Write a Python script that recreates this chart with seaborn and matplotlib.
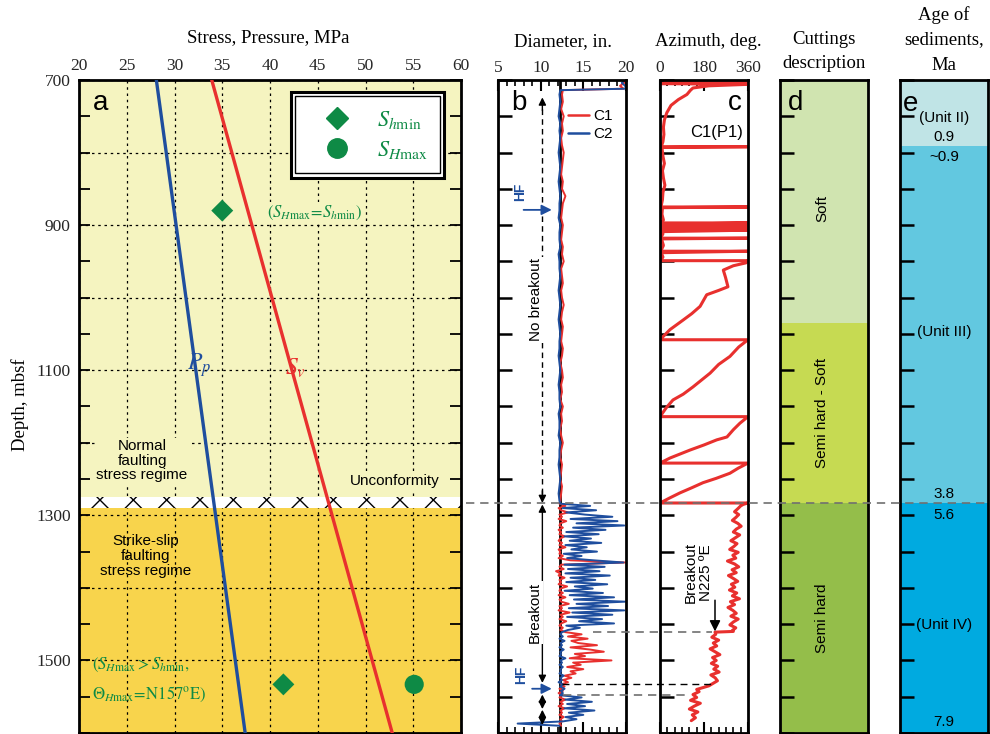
import numpy as np
import matplotlib
matplotlib.use("Agg")
import matplotlib.pyplot as plt
import matplotlib.transforms as mtrans
from matplotlib.patches import Rectangle
from matplotlib.lines import Line2D
from matplotlib.ticker import MultipleLocator
import seaborn as sns

sns.set_theme(style="white")
plt.rcParams['font.family'] = ['Liberation Sans', 'DejaVu Sans']
plt.rcParams['mathtext.fontset'] = 'stix'
plt.rcParams['hatch.linewidth'] = 1.0
SERIF = ['Liberation Serif', 'DejaVu Serif']

# ---------------- data ----------------
# panel a: stress / pressure profiles (MPa vs depth mbsf)
pp_depth = [700, 1600]
pp_mpa = [28.1, 37.4]
sv_depth = [700, 1600]
sv_mpa = [33.9, 52.8]
shmin_depth = [880, 1533]
shmin_mpa = [35.0, 41.4]
shmax_depth = [1533]
shmax_mpa = [55.1]
regime_top = [700, 1290]
regime_bottom = [1275, 1600]
unconformity = [1275, 1290]

# panel b: caliper (inches)
cal_depth_upper = [700, 704, 708, 712, 714] + list(range(720, 1281, 10))
c1_upper = [19.6, 19.8, 19.3, 19.7, 12.6,
            12.5, 12.6, 12.4, 12.7, 12.5, 12.6, 12.4, 12.5, 12.7, 12.6,
            12.5, 12.4, 12.6, 12.5, 12.9, 12.6, 12.5, 12.4, 12.6, 12.5,
            12.4, 12.6, 12.5, 12.7, 12.4, 12.5, 12.6, 12.4, 12.5, 12.7,
            12.5, 12.4, 12.6, 12.5, 12.4, 12.6, 12.5, 12.3, 12.5, 12.6,
            12.4, 12.5, 12.3, 12.6, 12.4, 12.5, 12.3, 12.4, 12.6, 12.4,
            12.3, 12.5, 12.4, 12.3, 12.5, 12.4, 12.3]
c2_upper = [19.9, 19.5, 19.9, 20.0, 12.3,
            12.2, 12.3, 12.2, 12.1, 12.3, 12.2, 12.3, 12.2, 12.1, 12.2,
            12.3, 12.2, 12.1, 12.2, 12.3, 12.2, 12.2, 12.1, 12.3, 12.2,
            12.2, 12.3, 12.1, 12.2, 12.2, 12.3, 12.2, 12.1, 12.2, 12.3,
            12.2, 12.1, 12.2, 12.3, 12.2, 12.2, 12.1, 12.2, 12.3, 12.2,
            12.1, 12.2, 12.2, 12.3, 12.1, 12.2, 12.2, 12.1, 12.3, 12.2,
            12.2, 12.1, 12.2, 12.3, 12.2, 12.1, 12.2]
cal_depth_lower = list(range(1284, 1591, 3))
c1_lower = [12.2, 12.9, 12.1, 12.4, 13.2, 12.2, 12.5, 12.1, 13.0, 12.3,
            12.2, 12.6, 12.1, 12.4, 12.2, 12.8, 12.3, 12.1, 12.5, 12.2,
            12.9, 12.1, 12.3, 12.2, 12.6, 12.1, 13.5, 19.9, 12.4, 12.2,
            12.7, 11.8, 12.3, 12.1, 12.8, 12.2, 12.4, 12.1, 13.1, 12.3,
            12.2, 12.6, 12.1, 12.9, 12.2, 12.4, 13.3, 12.2, 12.5, 12.1,
            13.4, 12.3, 12.6, 12.2, 13.0, 12.4, 12.2, 12.6, 12.3,
            12.9, 14.8, 13.2, 15.5, 13.6, 14.4, 16.6, 13.5, 15.8, 17.4,
            14.0, 15.2, 13.4, 18.3, 13.8, 14.7, 13.1, 15.0, 13.5, 14.1,
            12.8, 13.6, 12.6, 13.2, 12.4, 12.8, 12.2, 12.6, 12.1, 12.5,
            12.2, 12.9, 12.3, 12.6, 12.1, 12.8, 12.3, 12.5, 12.2, 12.7,
            12.3, 12.5, 12.2, 12.4]
c2_lower = [12.3, 15.8, 12.6, 16.5, 13.0, 15.2, 18.4, 13.5, 19.0, 14.2,
            19.8, 13.8, 17.6, 13.0, 16.8, 12.8, 15.9, 13.4, 17.1, 12.9,
            15.4, 13.6, 16.6, 12.7, 14.8, 13.1, 16.2, 19.7, 12.8, 17.5,
            13.2, 16.9, 12.9, 18.1, 13.5, 16.4, 13.0, 17.8, 14.0, 16.1,
            12.8, 17.3, 13.4, 18.6, 13.9, 19.9, 14.2, 17.9, 13.3, 19.8,
            13.7, 18.4, 13.1, 17.2, 14.5, 18.6, 13.0, 14.6, 13.2, 12.5,
            12.3, 12.6, 12.2, 12.8, 12.3, 12.5, 12.2, 12.7, 12.3, 12.4,
            12.2, 12.9, 12.3, 12.5, 12.2, 12.6, 12.3, 12.4, 12.2, 12.7,
            12.3, 12.5, 12.1, 12.6, 12.3, 12.8, 12.4, 12.6, 12.3, 14.8,
            12.9, 16.0, 13.1, 15.2, 12.8, 16.3, 13.3, 15.0, 12.9, 14.2,
            12.6, 7.3, 12.2]
cal_depth = cal_depth_upper + cal_depth_lower
c1_in = c1_upper + c1_lower
c2_in = c2_upper + c2_lower
bit_size = 12.25

# panel c: pad-1 azimuth (deg)
az_depth = [702, 703, 705, 706, 708, 711, 714, 720, 727, 735, 745, 755, 765, 775, 785,
            792, 792, 793, 805, 815, 825, 835, 845, 855, 865, 875, 875, 876, 885, 893,
            897, 897, 899, 899, 901, 901, 903, 903, 905, 905, 907, 907, 909, 912,
            918, 918, 919, 928, 936, 936, 938, 944, 949, 949,
            952, 956, 962, 972, 985, 990, 996, 1012, 1022, 1031, 1044, 1058,
            1058, 1068, 1081, 1092, 1104, 1114, 1123, 1133, 1141, 1152, 1164,
            1164, 1173, 1182, 1192, 1196, 1203, 1210, 1221, 1228,
            1228, 1235, 1242, 1249, 1255, 1262, 1269, 1276, 1283,
            1283, 1285] + list(range(1287, 1460, 4)) + [1460, 1461] + \
           list(range(1464, 1533, 4)) + [1535, 1540] + list(range(1543, 1584, 4))
az_deg = [20, 360, 0, 360, 200, 135, 125, 110, 75, 45, 28, 18, 14, 16, 12,
          5, 360, 8, 12, 18, 10, 14, 20, 12, 10, 4, 360, 10, 8, 14,
          2, 360, 2, 360, 3, 360, 2, 360, 4, 360, 2, 360, 3, 12,
          2, 360, 6, 14, 3, 360, 5, 12, 3, 360,
          352, 300, 259, 268, 278, 240, 191, 164, 130, 94, 41, 0,
          360, 322, 286, 240, 205, 168, 135, 95, 53, 25, 0,
          360, 327, 300, 274, 232, 180, 123, 41, 0,
          360, 320, 286, 230, 176, 130, 82, 40, 0,
          360, 340,
          330, 318, 305, 322, 310, 296, 318, 332, 312, 300,
          326, 308, 290, 315, 302, 285, 320, 298, 310, 276,
          305, 322, 295, 312, 280, 300, 318, 292, 306, 284,
          314, 296, 325, 288, 305, 278, 298, 312, 290, 320,
          300, 286, 310, 295,
          300, 225,
          228, 212, 240, 218, 232, 205, 225, 245, 215, 230, 210, 236, 220, 242, 208, 226, 235, 215,
          200, 150,
          160, 135, 150, 125, 165, 140, 120, 155, 132, 145, 128]

# panel d: cuttings description
cut_labels = ['Soft', 'Semi hard - Soft', 'Semi hard']
cut_top = [700, 1035, 1283]
cut_bottom = [1035, 1283, 1600]
cut_colors = ['#D0E4B0', '#C6DA52', '#94BE4A']

# panel e: age of sediments
unit_labels = ['(Unit II)', '(Unit III)', '(Unit IV)']
unit_top = [700, 791, 1283]
unit_bottom = [791, 1283, 1600]
unit_colors = ['#C0E4E6', '#62C8E0', '#00AAE0']
age_labels = ['0.9', '~0.9', '3.8', '5.6', '7.9']
age_depth = [779, 806, 1270, 1300, 1585]

# ---------------- style ----------------
RED = '#E8302E'
BLUE = '#1F4E9E'
GREEN = '#0E8A45'
C_UP = '#F5F4C0'
C_LOW = '#F8D44C'

W, H = 990, 734
fig = plt.figure(figsize=(W / 100, H / 100), dpi=100)
fig.patch.set_facecolor('white')


def add_ax(lpx, rpx, tpx=80, bpx=733):
    ax = fig.add_axes([lpx / W, 1 - bpx / H, (rpx - lpx) / W, (bpx - tpx) / H])
    ax.set_facecolor('white')
    for s in ax.spines.values():
        s.set_color('black')
        s.set_linewidth(2)
        s.set_visible(True)
    ax.set_ylim(1600, 700)
    return ax


def depth_ticks(ax, length=10):
    ax.yaxis.set_major_locator(MultipleLocator(50))
    ax.tick_params(axis='y', which='both', direction='in', left=True, right=False,
                   length=length, width=1.8, labelleft=False, color='black')


# ---------------- panel a ----------------
axa = add_ax(79, 461)
axa.set_xlim(20, 60)
axa.axhspan(regime_top[0], regime_bottom[0], color=C_UP, lw=0, zorder=0)
axa.axhspan(regime_top[1], regime_bottom[1], color=C_LOW, lw=0, zorder=0)
axa.axhspan(unconformity[0], unconformity[1], facecolor='white', edgecolor='black',
            hatch='x', lw=0, zorder=0.7)
axa.set_xticks(range(20, 61, 5))
axa.xaxis.tick_top()
axa.tick_params(axis='x', which='both', length=0, pad=4, labelsize=12.5, labelfontfamily=SERIF[0])
yt = list(range(700, 1601, 100))
axa.set_yticks(yt, [str(v) if (v - 700) % 200 == 0 and v < 1600 else '' for v in yt])
axa.yaxis.set_minor_locator(MultipleLocator(50))
axa.tick_params(axis='y', which='both', direction='in', left=True, right=True, length=8,
                width=1.3, labelsize=12.5, pad=6, labelfontfamily=SERIF[0], color='black')
axa.grid(True, which='major', color='black', lw=0.9, linestyle=(0, (2, 3)))
sns.lineplot(x=pp_mpa, y=pp_depth, sort=False, estimator=None, color=BLUE, lw=2.4, ax=axa, zorder=3)
sns.lineplot(x=sv_mpa, y=sv_depth, sort=False, estimator=None, color=RED, lw=2.4, ax=axa, zorder=3)
sns.scatterplot(x=shmin_mpa, y=shmin_depth, marker='D', s=125, color=GREEN, edgecolor='none',
                ax=axa, zorder=4)
sns.scatterplot(x=shmax_mpa, y=shmax_depth, marker='o', s=190, color=GREEN, edgecolor='none',
                ax=axa, zorder=4)
axa.set_xlabel('')
axa.set_ylabel('')

# legend with double frame
axa.add_patch(Rectangle((0.555, 0.850), 0.400, 0.132, transform=axa.transAxes,
                        facecolor='white', edgecolor='black', lw=2.2, zorder=5))
axa.add_patch(Rectangle((0.566, 0.857), 0.378, 0.118, transform=axa.transAxes,
                        facecolor='white', edgecolor='black', lw=1.0, zorder=5))
leg = axa.legend(handles=[Line2D([], [], marker='D', ls='', color=GREEN, ms=11),
                          Line2D([], [], marker='o', ls='', color=GREEN, ms=14)],
                 labels=[r'$S_{h\mathrm{min}}$', r'$S_{H\mathrm{max}}$'],
                 loc='center', bbox_to_anchor=(0.765, 0.916), frameon=False,
                 fontsize=16, labelcolor=GREEN, handletextpad=0.8, labelspacing=0.35,
                 borderpad=0.2)
leg.set_zorder(6)

txt_bb = dict(facecolor=C_UP, edgecolor='none', pad=1)
axa.text(21.5, 732, 'a', fontsize=20, ha='left', va='center', color='black', zorder=6)
axa.text(39.7, 883, r'$(S_{H\mathrm{max}}\!=\!S_{h\mathrm{min}})$', fontsize=12, color=GREEN,
         ha='left', va='center', bbox=txt_bb, zorder=5)
axa.text(32.6, 1093, r'$P_p$', fontsize=17, color=BLUE, ha='center', va='center', zorder=5)
axa.text(42.7, 1097, r'$S_v$', fontsize=17, color=RED, ha='center', va='center', zorder=5)
axa.text(26.6, 1225, 'Normal\nfaulting\nstress regime', fontsize=11, ha='center', va='center',
         linespacing=1.05, color='black', bbox=txt_bb, zorder=5)
axa.text(53.1, 1253, 'Unconformity', fontsize=11, ha='center', va='center', color='black',
         bbox=txt_bb, zorder=5)
axa.text(27.0, 1356, 'Strike-slip\nfaulting\nstress regime', fontsize=11, ha='center',
         va='center', linespacing=1.05, color='black', zorder=5)
axa.text(21.4, 1506, r'$(S_{H\mathrm{max}} > S_{h\mathrm{min}},$', fontsize=12, color=GREEN,
         ha='left', va='center', zorder=5)
axa.text(21.4, 1547, r'$\mathit{\Theta}_{H\mathrm{max}}\!=\!\mathrm{N157^{o}E)}$', fontsize=12,
         color=GREEN, ha='left', va='center', zorder=5)

# ---------------- panel b ----------------
axb = add_ax(498, 626)
axb.set_xlim(5, 20)
axb.axvline(bit_size, color='black', lw=2, zorder=1)
sns.lineplot(x=c1_in, y=cal_depth, sort=False, estimator=None, color=RED, lw=1.4, ax=axb,
             label='C1', zorder=2)
sns.lineplot(x=c2_in, y=cal_depth, sort=False, estimator=None, color=BLUE, lw=1.4, ax=axb,
             label='C2', zorder=2)
axb.set_xlabel('')
axb.set_ylabel('')
lg = axb.legend(loc='upper left', bbox_to_anchor=(0.55, 0.955), frameon=False, fontsize=11,
                handlelength=1.35, handletextpad=0.3, labelspacing=0.25, borderpad=0,
                borderaxespad=0, labelcolor='black')
for h in lg.get_lines():
    h.set_linewidth(1.8)
axb.set_xticks([5, 10, 15, 20])
axb.xaxis.set_minor_locator(MultipleLocator(1))
axb.tick_params(axis='x', which='major', direction='in', top=True, bottom=True, length=8,
                width=1.5, labeltop=True, labelbottom=False, labelsize=12.5, pad=3,
                labelfontfamily=SERIF[0], color='black')
axb.tick_params(axis='x', which='minor', direction='in', top=True, bottom=True, length=4,
                width=1.2, color='black')
depth_ticks(axb)

# arrows in panel b
axb.vlines(10.2, 740, 1270, colors='black', linestyles=(0, (4, 3)), lw=1.0, zorder=3)
ap = dict(arrowstyle='-|>', color='black', lw=1.0, mutation_scale=11, shrinkA=0, shrinkB=0)
axb.annotate('', xy=(10.2, 724), xytext=(10.2, 742), arrowprops=ap)
axb.annotate('', xy=(10.2, 1283), xytext=(10.2, 1266), arrowprops=ap)
ap2 = dict(arrowstyle='<|-|>', color='black', lw=1.0, mutation_scale=11, shrinkA=0, shrinkB=0)
axb.annotate('', xy=(10.2, 1285), xytext=(10.2, 1531), arrowprops=ap2)
axb.annotate('', xy=(10.2, 1547), xytext=(10.2, 1567), arrowprops=ap2)
axb.annotate('', xy=(10.2, 1568), xytext=(10.2, 1589), arrowprops=ap2)
hfp = dict(arrowstyle='-|>', color=BLUE, lw=1.3, mutation_scale=15, shrinkA=0, shrinkB=0)
axb.annotate('', xy=(11.3, 879), xytext=(8.0, 879), arrowprops=hfp)
axb.annotate('', xy=(11.3, 1539), xytext=(9.0, 1539), arrowprops=hfp)
axb.text(7.6, 854, 'HF', rotation=90, color=BLUE, fontsize=10, fontweight='bold',
         ha='center', va='center')
axb.text(7.7, 1520, 'HF', rotation=90, color=BLUE, fontsize=10, fontweight='bold',
         ha='center', va='center')
axb.text(9.4, 1003, 'No breakout', rotation=90, fontsize=11, ha='center', va='center',
         color='black', bbox=dict(facecolor='white', edgecolor='none', pad=1))
axb.text(9.3, 1434, 'Breakout', rotation=90, fontsize=11, ha='center', va='center',
         color='black', bbox=dict(facecolor='white', edgecolor='none', pad=1), zorder=3)
axb.text(6.5, 732, 'b', fontsize=20, ha='left', va='center', color='black')

# ---------------- panel c ----------------
axc = add_ax(660, 748)
axc.set_xlim(0, 360)
sns.lineplot(x=az_deg, y=az_depth, sort=False, estimator=None, color=RED, lw=2.2, ax=axc)
axc.set_xlabel('')
axc.set_ylabel('')
axc.set_xticks([0, 180, 360])
axc.xaxis.set_minor_locator(MultipleLocator(30))
axc.tick_params(axis='x', which='major', direction='in', top=True, bottom=True, length=8,
                width=1.5, labeltop=True, labelbottom=False, labelsize=12.5, pad=3,
                labelfontfamily=SERIF[0], color='black')
axc.tick_params(axis='x', which='minor', direction='in', top=True, bottom=True, length=4,
                width=1.2, color='black')
depth_ticks(axc)
axc.text(307, 732, 'c', fontsize=20, ha='center', va='center', color='black')
axc.text(233, 773, 'C1(P1)', fontsize=12, ha='center', va='center', color='black')
axc.text(158, 1379, 'Breakout\nN225 \u00baE', rotation=90, fontsize=11, ha='center',
         va='center', color='black', linespacing=1.1)
axc.annotate('', xy=(225, 1460), xytext=(225, 1417),
             arrowprops=dict(arrowstyle='-|>', color='black', lw=1.1, mutation_scale=16,
                             shrinkA=0, shrinkB=0))

# ---------------- panel d ----------------
axd = add_ax(780, 868)
axd.set_xlim(0, 1)
axd.set_xticks([])
for lab, t, b, c in zip(cut_labels, cut_top, cut_bottom, cut_colors):
    axd.axhspan(t, b, color=c, lw=0, zorder=0)
    axd.text(0.48, (t + b) / 2 + (0 if lab != 'Soft' else 10), lab, rotation=90, fontsize=11,
             ha='center', va='center', color='black')
depth_ticks(axd)
axd.text(0.09, 732, 'd', fontsize=20, ha='left', va='center', color='black')

# ---------------- panel e ----------------
axe = add_ax(900, 988)
axe.set_xlim(0, 1)
axe.set_xticks([])
unit_text_depth = [752, 1047, 1451]
for lab, t, b, c, td in zip(unit_labels, unit_top, unit_bottom, unit_colors, unit_text_depth):
    axe.axhspan(t, b, color=c, lw=0, zorder=0)
    axe.text(0.5, td, lab, fontsize=11, ha='center', va='center', color='black')
for lab, d in zip(age_labels, age_depth):
    axe.text(0.5, d, lab, fontsize=11, ha='center', va='center', color='black')
depth_ticks(axe)
axe.text(0.03, 733, 'e', fontsize=20, ha='left', va='center', color='black')

# ---------------- connecting dashed lines ----------------
tr = mtrans.blended_transform_factory(fig.transFigure, axb.transData)
fig.add_artist(Line2D([466 / W, 990 / W], [1283, 1283], transform=tr, color='#707070',
                      lw=1.2, ls=(0, (5, 3.5)), zorder=10))
fig.add_artist(Line2D([593 / W, 712 / W], [1461, 1461], transform=tr, color='#707070',
                      lw=1.2, ls=(0, (5, 3.5)), zorder=10))
fig.add_artist(Line2D([562 / W, 712 / W], [1532, 1532], transform=tr, color='black',
                      lw=1.0, ls=(0, (5, 3.5)), zorder=10))
fig.add_artist(Line2D([563 / W, 685 / W], [1547, 1547], transform=tr, color='#707070',
                      lw=1.2, ls=(0, (5, 3.5)), zorder=10))

# ---------------- titles ----------------
def ftxt(xp, yp, s, **kw):
    fig.text(xp / W, 1 - yp / H, s, ha='center', va='center', fontsize=13.5,
             family=SERIF, color='black', **kw)

ftxt(268, 38, 'Stress, Pressure, MPa')
ftxt(563, 42, 'Diameter, in.')
ftxt(708, 42, 'Azimuth, deg.')
ftxt(824, 40, 'Cuttings')
ftxt(824, 63, 'description')
ftxt(944, 15, 'Age of')
ftxt(944, 40, 'sediments,')
ftxt(944, 65, 'Ma')
ftxt(20, 405, 'Depth, mbsf', rotation=90)

fig.savefig('out.png', dpi=100)
